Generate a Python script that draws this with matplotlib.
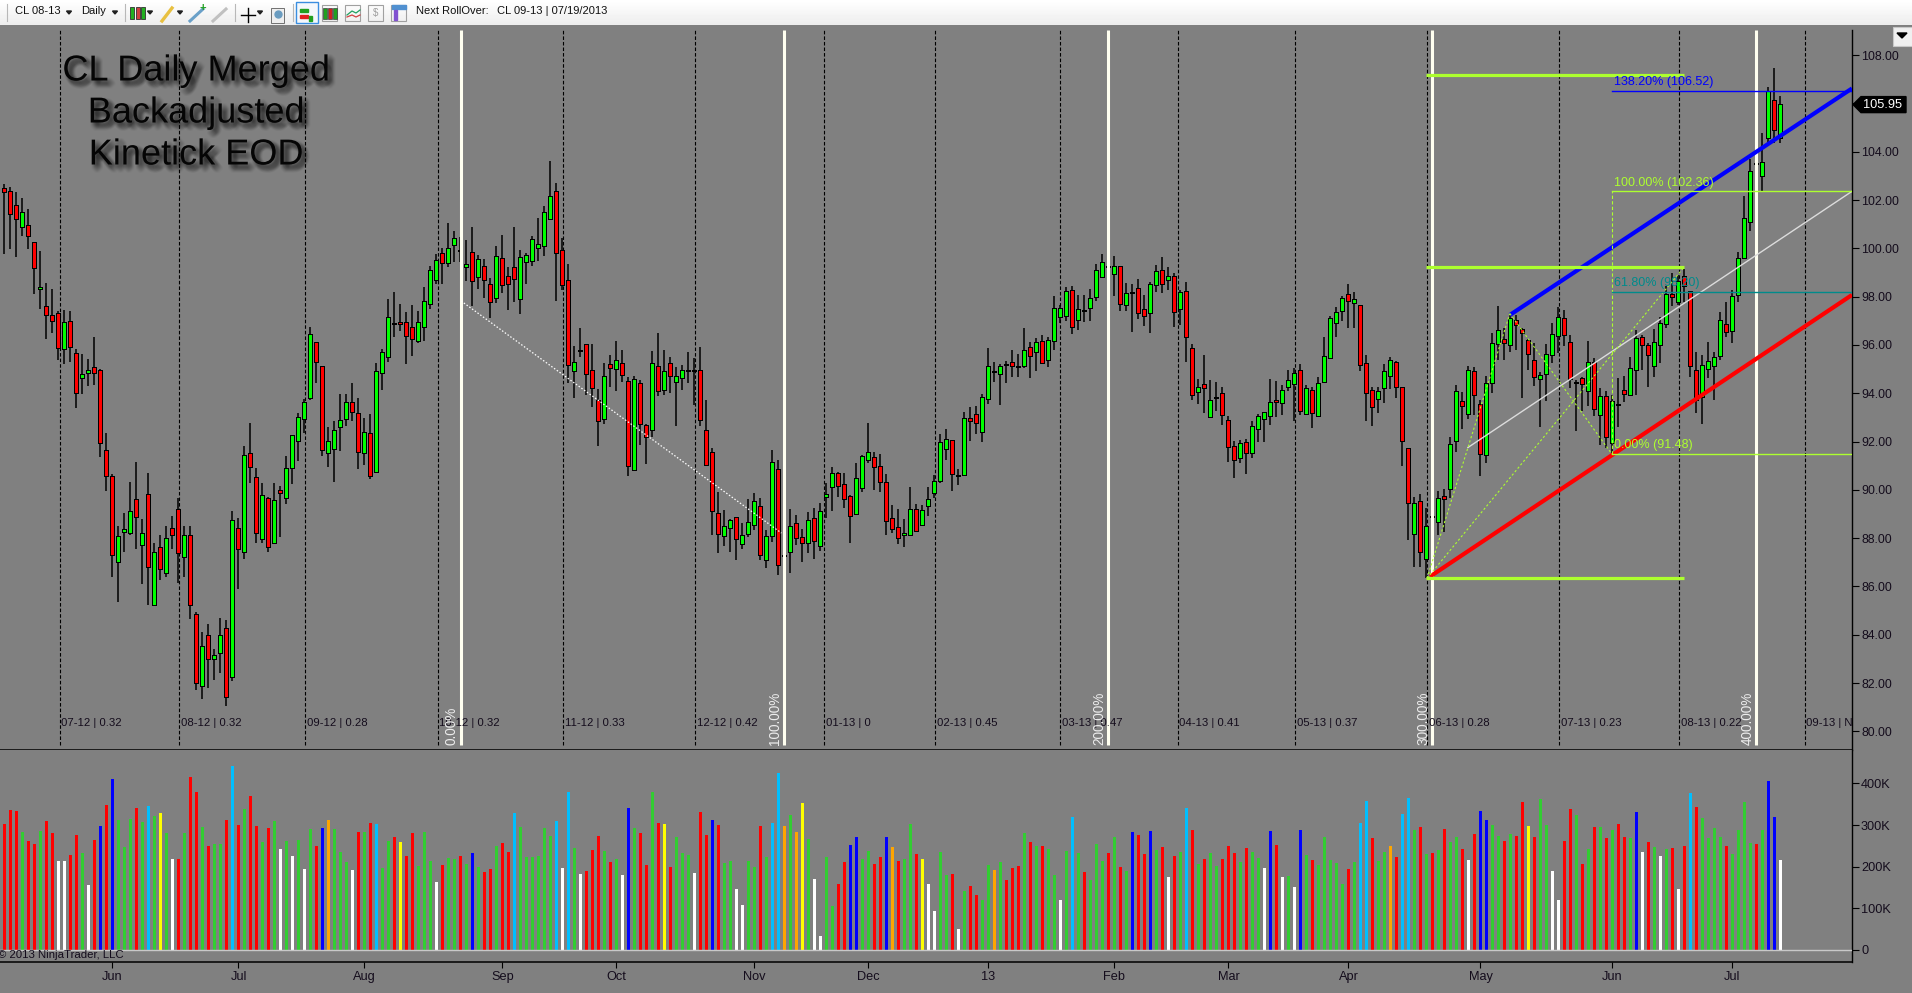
import numpy as np
import matplotlib
matplotlib.use('Agg')
import matplotlib.pyplot as plt
import matplotlib.patheffects as pe
from matplotlib.patches import Rectangle, Polygon
from matplotlib.collections import LineCollection

plt.rcParams['font.family'] = ['Liberation Sans', 'DejaVu Sans']

W, H = 1912, 993
GRAY = '#808080'
TEXT = '#140c1c'

highs = [
    102.65,102.53,102.35,102.10,101.61,100.24,99.87,98.55,98.31,97.40,
    97.44,97.40,95.82,95.61,95.40,96.32,94.99,92.37,90.67,88.49,
    89.04,90.34,91.14,88.79,90.71,87.81,88.13,88.52,88.92,89.66,
    88.52,88.49,84.96,84.13,84.43,83.42,84.68,84.60,89.12,88.82,
    91.81,92.77,90.89,90.27,89.71,90.27,90.15,91.38,92.25,93.18,
    93.77,96.73,96.10,95.11,92.59,92.84,93.95,93.95,94.44,93.80,
    92.96,93.14,95.24,95.82,97.89,98.21,97.69,97.35,97.65,97.40,
    98.39,99.28,99.75,100.02,101.05,100.70,100.46,100.34,100.87,99.72,
    99.54,98.76,100.10,100.55,99.21,100.87,99.93,99.79,100.51,101.24,
    101.75,103.61,102.69,100.41,99.34,95.96,96.69,96.02,96.04,94.18,
    95.24,95.58,96.16,95.79,94.66,94.71,94.55,92.73,95.75,96.49,
    95.79,95.49,95.07,95.17,95.71,95.46,95.90,93.72,91.72,89.90,
    89.17,88.81,88.89,88.64,89.61,89.86,89.65,88.34,91.65,91.24,
    87.51,89.19,88.96,88.37,89.07,89.23,89.44,90.30,90.93,90.73,
    90.68,89.79,91.10,91.43,92.75,91.58,91.48,90.64,89.37,89.19,
    88.79,90.10,89.40,89.37,90.13,90.61,92.31,92.51,92.06,90.85,
    93.24,93.42,93.47,93.96,95.86,95.28,95.20,95.34,95.79,95.61,
    96.69,96.12,96.27,96.40,96.32,98.03,97.66,98.39,98.44,98.07,
    98.07,98.30,99.35,99.77,99.45,99.68,99.24,98.55,98.51,98.72,
    98.07,98.62,99.31,99.63,99.21,98.97,98.28,98.59,96.03,94.59,
    95.57,94.55,94.45,94.27,93.06,92.02,92.07,92.09,92.85,93.14,
    93.24,94.58,94.52,94.33,94.96,95.03,95.20,94.34,94.27,94.66,
    96.34,97.20,97.56,98.04,98.51,98.18,97.67,95.57,94.27,94.27,
    95.20,95.52,95.35,94.23,91.72,89.69,89.82,89.24,89.10,89.95,
    90.02,92.18,94.34,94.07,95.13,95.07,93.72,94.71,96.51,97.61,
    96.69,97.24,97.24,96.69,96.23,96.09,94.89,96.04,96.92,97.58,
    97.45,96.41,94.55,94.69,96.16,95.45,94.20,94.11,93.93,94.62,
    94.71,95.51,96.62,96.41,96.07,96.65,97.14,98.44,98.96,98.89,
    99.13,98.21,95.72,95.58,96.13,95.69,97.38,97.79,98.27,99.86,
    102.17,103.68,104.00,104.76,106.66,107.45,106.32]

lows = [
    99.78,99.96,99.63,100.52,99.99,98.09,97.47,96.26,96.51,95.36,
    95.22,95.30,93.40,93.95,94.31,94.34,91.36,89.96,86.41,85.34,
    87.44,88.13,87.56,86.11,85.25,85.20,86.28,86.41,87.53,86.16,
    86.41,84.66,81.72,81.35,81.81,82.13,82.43,81.05,82.09,85.91,
    87.12,90.30,87.81,87.81,87.44,87.78,88.04,89.40,90.22,91.20,
    92.37,93.70,94.44,91.41,90.93,90.34,91.59,92.65,92.86,90.85,
    91.04,90.43,90.74,94.14,95.30,96.33,96.58,95.22,95.55,96.08,
    96.17,97.47,98.51,98.54,99.22,99.42,99.42,98.63,97.62,98.33,
    97.96,97.13,97.72,98.16,97.45,97.79,97.28,98.52,99.27,99.47,
    99.68,101.20,97.83,98.27,94.44,93.82,95.49,93.93,93.44,91.83,
    92.73,94.27,94.11,94.48,90.59,90.79,91.86,91.08,92.17,93.89,
    93.93,94.02,92.66,94.13,94.44,93.51,92.64,90.99,88.13,87.40,
    87.68,87.44,87.10,87.55,88.06,88.34,87.10,86.78,87.85,86.49,
    86.96,86.57,87.72,87.03,87.40,87.12,87.47,88.82,89.14,89.72,
    89.26,87.81,88.99,89.92,91.12,89.99,89.92,88.13,88.23,87.76,
    87.65,88.09,88.27,88.52,88.92,89.68,90.27,91.24,89.97,90.21,
    90.60,92.04,92.31,92.00,93.56,94.47,93.51,94.41,94.69,94.69,
    95.05,94.63,94.92,95.21,95.10,95.79,96.92,97.01,96.45,96.62,
    96.95,97.01,97.83,98.80,98.99,98.04,97.41,97.41,96.55,97.06,
    96.79,96.51,98.19,98.17,98.28,96.76,96.83,95.31,93.72,93.56,
    93.20,93.00,93.28,92.69,91.17,90.47,91.13,90.66,91.32,91.96,
    92.00,92.69,93.03,93.10,94.09,92.87,93.10,93.13,92.58,93.06,
    94.45,95.45,96.34,96.99,96.68,96.68,94.94,92.87,92.66,93.20,
    93.61,94.16,93.82,91.00,87.93,86.82,86.82,86.34,88.64,88.13,
    88.27,89.68,91.58,92.51,92.92,93.10,90.59,91.12,94.02,95.38,
    95.38,95.72,95.79,93.82,94.96,94.30,92.62,93.69,95.27,95.68,
    95.96,94.23,92.45,93.28,93.47,93.07,91.86,91.72,91.51,92.62,
    93.65,93.93,93.93,94.96,94.27,94.69,95.27,96.69,97.63,97.65,
    97.79,94.66,93.17,92.71,94.62,93.72,95.38,96.34,96.09,97.79,
    99.54,100.73,103.10,102.39,104.25,104.35,104.37]

opens = [
    102.44,102.35,101.76,100.87,100.93,100.21,98.30,97.55,97.18,97.26,
    95.82,96.95,95.61,94.62,94.85,95.06,94.94,91.61,90.51,87.03,
    88.24,88.20,89.59,87.71,89.80,85.24,87.61,86.54,88.39,89.17,
    87.21,88.09,84.83,81.87,83.95,82.99,83.23,84.25,82.24,88.39,
    87.44,91.50,90.49,87.95,89.60,87.78,89.96,89.65,90.89,92.04,
    92.92,93.82,96.07,95.09,91.54,91.67,92.59,92.92,93.61,93.15,
    91.51,92.33,90.74,94.82,95.52,96.87,96.91,96.91,96.70,96.17,
    96.73,97.68,98.70,99.78,99.39,100.13,99.89,99.22,99.82,98.83,
    99.24,98.47,97.93,99.54,98.80,99.17,97.89,99.42,99.47,100.00,
    100.08,101.20,102.32,99.87,98.66,94.91,95.75,96.01,94.93,93.66,
    92.92,95.18,94.99,95.22,94.48,90.84,94.37,92.66,92.46,95.10,
    94.13,95.22,94.47,94.63,94.93,94.93,94.91,92.45,91.54,89.01,
    88.08,88.41,88.85,87.74,88.16,88.53,89.30,87.10,88.08,90.84,
    87.24,87.43,88.60,88.00,87.79,88.78,87.69,89.69,90.10,90.64,
    90.21,89.72,88.99,90.06,91.25,91.33,90.93,90.27,88.81,88.41,
    88.12,88.12,89.18,88.53,89.32,89.86,90.35,91.68,92.01,90.58,
    90.60,92.95,93.11,92.38,93.75,94.88,94.81,95.16,95.27,95.10,
    95.14,95.86,95.70,96.14,95.36,96.15,97.14,97.21,98.25,97.02,
    97.42,97.54,97.97,98.80,99.22,98.92,99.21,97.64,98.13,98.33,
    97.43,97.31,98.47,99.08,98.68,98.83,97.48,98.18,95.82,94.03,
    94.33,93.00,93.80,93.98,92.83,91.79,91.31,91.93,91.51,92.51,
    92.92,93.06,93.69,93.58,94.25,94.38,94.94,93.13,94.11,93.06,
    94.45,95.47,96.90,97.39,98.08,97.72,97.63,95.21,94.08,93.75,
    94.20,94.72,95.27,94.21,91.68,88.16,89.51,87.13,88.87,88.67,
    89.72,90.02,92.01,93.65,93.13,94.87,93.50,91.43,94.41,96.02,
    96.22,95.98,96.99,96.62,96.18,95.35,94.58,94.80,95.58,96.37,
    97.09,96.09,94.43,94.58,94.09,95.24,93.09,93.83,91.93,93.52,
    94.08,93.93,94.96,96.29,95.97,95.13,96.00,96.85,98.07,97.79,
    98.80,98.18,94.93,93.86,95.00,95.14,95.54,96.82,96.58,98.05,
    99.58,101.08,103.50,103.00,104.55,106.11,104.55]

closes = [
    102.35,101.41,101.20,101.48,100.53,99.17,98.37,97.22,96.97,95.89,
    96.91,95.92,93.99,94.74,94.93,94.85,91.93,90.59,87.31,88.05,
    88.35,89.09,88.89,88.18,86.79,87.40,86.72,87.98,88.11,87.37,
    88.09,85.23,81.99,83.50,82.98,83.13,83.95,81.44,88.72,87.55,
    91.41,90.96,88.23,89.75,87.65,89.54,89.86,90.88,92.21,92.99,
    93.60,96.42,95.31,91.63,91.98,92.44,92.86,93.60,93.23,91.56,
    92.35,90.59,94.88,95.68,97.13,96.87,96.85,96.35,96.23,96.92,
    97.78,99.07,99.48,99.41,99.99,100.40,99.89,99.32,98.63,99.50,
    98.67,97.79,99.63,98.47,98.51,98.72,99.59,99.70,100.33,100.15,
    101.48,102.14,99.79,98.47,95.16,95.27,95.75,94.80,94.20,92.84,
    94.69,95.03,95.32,94.74,90.97,94.53,92.71,92.19,95.22,94.08,
    94.89,94.70,94.69,94.93,94.93,94.93,92.88,91.04,89.11,88.16,
    88.48,88.70,87.95,88.10,88.64,89.51,87.29,88.06,91.13,86.88,
    87.24,88.48,88.00,87.79,88.72,87.88,89.10,89.80,90.67,90.15,
    89.61,88.90,90.46,91.35,91.51,90.93,90.31,88.70,88.37,88.00,
    88.19,89.18,88.31,89.14,89.59,90.34,91.95,92.08,90.64,90.58,
    92.95,92.84,92.75,93.79,95.07,94.88,95.07,95.16,95.12,95.10,
    95.76,95.53,96.09,95.24,96.18,97.48,97.50,98.18,96.73,97.43,
    97.42,97.92,99.08,99.41,99.22,99.24,97.68,98.12,98.13,97.31,
    97.21,98.50,99.01,98.51,98.80,97.35,98.17,96.32,93.92,94.20,
    94.20,93.69,93.80,93.11,91.76,91.22,91.91,91.51,92.62,93.03,
    93.17,93.61,93.63,94.11,94.52,94.81,93.25,94.19,93.17,94.40,
    95.52,97.06,97.31,97.92,97.81,97.88,95.16,94.00,93.42,94.07,
    94.89,95.35,94.25,92.01,89.44,89.42,87.43,88.44,88.87,89.64,
    89.62,91.87,94.07,93.47,94.93,93.91,91.48,94.40,96.05,96.59,
    96.07,97.06,96.82,96.48,95.62,94.66,94.73,95.58,96.42,97.13,
    96.40,94.58,94.43,94.38,95.24,93.35,93.83,92.17,93.65,93.52,
    93.95,94.99,96.23,95.98,95.58,96.09,96.87,98.05,97.98,98.62,
    98.45,95.13,93.72,95.14,95.31,95.47,97.00,96.55,97.97,99.57,
    101.23,103.17,103.50,103.52,106.49,104.90,105.95]

# volume in thousands
volumes = [
    302,336,334,283,262,254,286,310,281,214,
    214,228,276,233,156,264,298,348,410,312,
    247,314,341,307,346,322,329,281,218,218,
    281,415,379,295,250,254,254,312,442,300,
    338,370,298,259,293,310,242,262,226,264,
    194,290,250,293,312,290,235,211,192,283,
    283,305,302,197,262,271,259,226,281,202,
    283,214,163,204,221,218,226,206,233,199,
    187,194,250,257,235,329,295,223,223,226,
    293,274,310,197,379,245,182,190,240,274,
    238,211,218,180,341,293,281,204,379,305,
    302,199,271,233,228,185,331,276,312,300,
    209,214,146,108,214,199,298,223,305,425,
    298,324,283,353,266,170,34,223,106,158,
    211,252,271,218,238,206,223,271,247,214,
    218,302,230,218,158,94,235,180,182,50,
    142,154,132,120,204,192,211,168,197,202,
    281,259,250,250,242,180,120,238,319,233,
    187,168,254,214,233,271,199,190,283,276,
    230,286,240,247,175,226,235,341,288,206,
    218,233,202,218,250,233,211,245,235,221,
    197,286,252,175,178,151,288,228,216,204,
    271,216,209,158,194,211,305,358,269,214,
    235,250,223,326,365,288,295,230,233,240,
    290,259,271,242,216,278,334,312,300,274,
    262,278,274,355,298,271,362,300,190,120,
    262,338,324,206,242,295,295,269,288,302,
    271,269,331,235,259,247,226,242,245,146,
    250,377,343,317,269,293,271,250,230,288,
    355,257,254,288,406,319,216]

volume_codes = (
    'RRRGRRGRRW' 'WRRGWRBRBG' 'GGRGCGYGWR' 'GRRGRGGRCR' 'GRRGRGWGWG'
    'WGRBOGGGWR' 'GRCGGRYRRG' 'GGWRGGRGBG' 'RRGRRCGGGG' 'GGCWCGWRRR'
    'GRGWBGRRGR' 'YRGGGWRRBR' 'GGWWGGRGCC' 'OGOYGWWGGR' 'RBBGGRRBOR'
    'GGRYWWGGRW' 'GRRGGOGRRR' 'GRGRGGWGCG' 'RGGGRGRGBR' 'RBGRWRGCRG'
    'RGGRRRGRGG' 'WBRWGWBGRG' 'GGGGRGCCRG' 'GORCCGRGRG' 'RGGRWRBBGG'
    'RGRRYRGGWW' 'RRGRGRGRGR' 'RGBWRGWGRW' 'RCRGGGGRGG' 'GGRGBBW')
volume_colors = {'R': '#ff0000', 'G': '#32cd32', 'W': '#ffffff', 'B': '#0000ff',
                 'C': '#00bfff', 'Y': '#ffff00', 'O': '#ffa500'}

month_pos = [18, 39, 60, 83, 102, 125, 144, 164, 185, 204, 224, 246, 268, 288]
month_labels = ['Jun', 'Jul', 'Aug', 'Sep', 'Oct', 'Nov', 'Dec', '13', 'Feb', 'Mar',
                'Apr', 'May', 'Jun', 'Jul']

rollover_pos = [9.2, 29.15, 50.15, 72.2, 93.15, 115.15, 136.65, 155.15, 176, 195.55,
                215.15, 237.15, 259.15, 279.15, 300.05]
rollover_labels = ['07-12 | 0.32', '08-12 | 0.32', '09-12 | 0.28', '10-12 | 0.32',
                   '11-12 | 0.33', '12-12 | 0.42', '01-13 | 0', '02-13 | 0.45',
                   '03-13 | 0.47', '04-13 | 0.41', '05-13 | 0.37', '06-13 | 0.28',
                   '07-13 | 0.23', '08-13 | 0.22', '09-13 | N']

cycle_pos = [76.05, 130, 184, 238, 292]
cycle_labels = ['0.00%', '100.00%', '200.00%', '300.00%', '400.00%']

fib_levels = [106.52, 102.36, 98.20, 91.48]
fib_labels = ['138.20% (106.52)', '100.00% (102.36)', '61.80% (98.20)', '0.00% (91.48)']
fib_colors = ['#0000ff', '#adff2f', '#008b8b', '#adff2f']

price_ticks = list(range(80, 110, 2))
volume_ticks = [0, 100, 200, 300, 400]
volume_tick_labels = ['0', '100K', '200K', '300K', '400K']

last_price = 105.95


def add_axes(x0, y0, x1, y1):
    # pixel box, y measured from the top
    return fig.add_axes([x0 / W, 1 - y1 / H, (x1 - x0) / W, (y1 - y0) / H])


fig = plt.figure(figsize=(W / 100, H / 100), dpi=100, facecolor=GRAY)

ax = add_axes(0, 30, 1852, 750)
vol = add_axes(0, 750, 1852, 962)
xlim = (-0.75, 307.92)
for a in (ax, vol):
    a.set_facecolor(GRAY)
    a.set_xlim(xlim)
    for s in ('left', 'top'):
        a.spines[s].set_visible(False)
    a.spines['right'].set_linewidth(1.0)
    a.spines['bottom'].set_linewidth(1.1)
    a.yaxis.tick_right()
ax.set_ylim(79.226, 109.04)
vol.set_ylim(-28.8, 480)

# rollover separators
ax.vlines(rollover_pos, 79.45, 109.04, color='black', lw=0.8, linestyles=(0, (3.2, 1.8)), zorder=1)
for x, t in zip(rollover_pos, rollover_labels):
    ax.text(x + 0.25, 80.35, t, fontsize=8.2, color=TEXT, ha='left', va='center', zorder=5,
            clip_on=True)

# candles: black box, coloured inside, 1 px border
idx = np.arange(len(closes))
wicks = [[(i, lows[i]), (i, highs[i])] for i in idx]
ax.add_collection(LineCollection(wicks, colors='black', linewidths=1.1, zorder=2))
px = 1 / 24.15
for i in idx:
    o, c = opens[i], closes[i]
    lo, hi = min(o, c), max(o, c)
    if o == c:
        ax.add_patch(Rectangle((i - 0.36, o - px), 0.72, 2 * px, color='black', lw=0, zorder=3))
        continue
    color = '#00ff00' if c > o else '#ff0000'
    ax.add_patch(Rectangle((i - 0.42, lo - px), 0.84, hi - lo + 2 * px, color='black', lw=0, zorder=3))
    ax.add_patch(Rectangle((i - 0.26, lo), 0.52, hi - lo, color=color, lw=0, zorder=3.1))

# cycle lines
ax.vlines(cycle_pos, 79.45, 109.04, color='#fffff0', lw=2.2, zorder=4)
for x, t in zip(cycle_pos, cycle_labels):
    ax.text(x - 1.5, 79.42, t, rotation=90, fontsize=9.8, color='#ececec', ha='center',
            va='bottom', zorder=5)

# trend lines and fib drawing
ax.plot([250.9, 307.92], [97.24, 106.62], color='#0000ff', lw=3.0, zorder=6, solid_capstyle='butt')
ax.plot([237.6, 307.92], [86.41, 98.07], color='#ff0000', lw=3.0, zorder=6, solid_capstyle='butt')
ax.plot([243.9, 307.92], [91.75, 102.36], color='#dcdcdc', lw=1.0, zorder=6)
for lvl in (107.17, 99.21, 86.34):
    ax.plot([236.9, 279.9], [lvl, lvl], color='#adff2f', lw=2.3, zorder=6, solid_capstyle='butt')
for xs, ys in (([237.1, 250.9], [86.34, 97.3]), ([250.9, 267.9], [97.3, 91.48]),
               ([237.1, 279.9], [86.34, 99.21])):
    ax.plot(xs, ys, color='#adff2f', lw=0.8, ls=(0, (2, 2)), zorder=6)
ax.plot([76.1, 129.5], [97.82, 88.21], color='white', lw=0.9, ls=(0, (1.2, 1.5)), zorder=6)

ax.plot([267.9, 267.9], [91.48, 102.36], color='#adff2f', lw=0.8, ls=(0, (3, 2)), zorder=6)
for lvl, t, c in zip(fib_levels, fib_labels, fib_colors):
    ax.plot([267.9, 307.92], [lvl, lvl], color=c, lw=1.0, zorder=6)
    ax.annotate(t, (268.3, lvl), xytext=(0, 2.0), textcoords='offset points', fontsize=9,
                color=c, ha='left', va='bottom', zorder=7)

ax.set_xticks([])
ax.set_yticks(price_ticks)
ax.set_yticklabels(['%.2f' % p for p in price_ticks])
ax.tick_params(axis='y', length=5, width=0.8, color='black', pad=1.5, labelsize=8.9, labelcolor=TEXT)

# volume
vol.bar(idx, volumes, width=0.5, color=[volume_colors[k] for k in volume_codes], zorder=2)
vol.axhline(0, color='#c8c8c8', lw=1.0, zorder=3)
vol.set_yticks(volume_ticks)
vol.set_yticklabels(volume_tick_labels)
vol.tick_params(axis='y', length=5, width=0.8, color='black', pad=1.5, labelsize=9.2, labelcolor=TEXT)
vol.set_xticks(month_pos)
vol.set_xticklabels(month_labels)
vol.tick_params(axis='x', length=4.3, width=0.8, color='black', pad=2.5, labelsize=9.2, labelcolor=TEXT)
vol.text(-0.001, 0.033, '\u00a9 2013 NinjaTrader, LLC', transform=vol.transAxes, fontsize=8.2,
         color=TEXT, ha='left', va='center')

# chrome on top, in pixel coordinates
top = fig.add_axes([0, 0, 1, 1], zorder=10)
top.axis('off')
top.patch.set_alpha(0)

top.imshow(np.linspace(1.0, 0.93, 25).reshape(-1, 1), extent=(0, W, 25, 0), cmap='gray',
           vmin=0, vmax=1, aspect='auto', zorder=1)
top.set_xlim(0, W)
top.set_ylim(H, 0)

for x in (7, 125, 235, 293):
    top.plot([x, x], [4, 21], color='#b8b8b8', lw=0.8, zorder=2)
for x in (69, 115, 150, 180, 260):
    top.add_patch(Polygon([(x - 2.5, 11), (x + 2.5, 11), (x, 14)], color='#202020', zorder=2))
for x, t in ((15, 'CL 08-13'), (81, 'Daily'), (416, 'Next RollOver:'), (497, 'CL 09-13 | 07/19/2013')):
    top.text(x, 11.5, t, fontsize=8, color='#101010', ha='left', va='center', zorder=2)

# toolbar icons
for x, c in ((132, '#22b020'), (138, '#d04040'), (143, '#22b020')):
    top.add_patch(Rectangle((x - 2, 7), 4, 12, facecolor=c, edgecolor='#303030', lw=0.6, zorder=2))
top.plot([162, 172], [21, 8], color='#e8c040', lw=2.4, zorder=2)
top.plot([190, 203], [21, 9], color='#6aa0c8', lw=2.2, zorder=2)
top.text(203, 8, '+', fontsize=8, color='#20a020', weight='bold', ha='center', va='center', zorder=2)
top.plot([213, 226], [21, 9], color='#c0c0c0', lw=2.2, zorder=2)
top.plot([241, 255], [15, 15], color='black', lw=1.0, zorder=2)
top.plot([248, 248], [8, 22], color='black', lw=1.0, zorder=2)
top.add_patch(Rectangle((271, 8), 13, 15, facecolor='#eeeeee', edgecolor='#707070', lw=0.7, zorder=2))
top.plot([278], [14], 'o', ms=5, color='#6a9cc0', zorder=3)
top.add_patch(Rectangle((296, 1.5), 22, 21, facecolor='#f4f8fc', edgecolor='#3a8ee0', lw=1.0, zorder=2))
top.add_patch(Rectangle((300, 9), 8, 3, color='#20a020', zorder=3))
top.add_patch(Rectangle((300, 15), 8, 3, color='#e02020', zorder=3))
top.add_patch(Rectangle((309, 16), 3, 5, color='#20a020', zorder=3))
for x, c in ((325, '#20a020'), (330, '#d02020'), (335, '#20a020')):
    top.add_patch(Rectangle((x - 1.5, 8), 3.5, 11, facecolor=c, edgecolor='#404040', lw=0.5, zorder=3))
for x in (330, 353, 376, 399):
    top.add_patch(Rectangle((x - 7.5, 5), 15, 16, fill=False, edgecolor='#a0a0a0', lw=0.8, zorder=2))
top.plot([347, 352, 356, 360], [15, 11, 13, 10], color='#20a060', lw=0.9, zorder=3)
top.plot([347, 352, 356, 360], [17, 15, 17, 15], color='#d04040', lw=0.9, zorder=3)
top.text(376, 13, '$', fontsize=7, color='#a0a0a0', ha='center', va='center', zorder=3)
top.add_patch(Rectangle((392, 5), 14, 4, color='#5090d0', zorder=3))
top.add_patch(Rectangle((394, 10), 3, 10, color='#8050d0', zorder=3))

# little dropdown button, top right
top.add_patch(Rectangle((1893, 27), 20, 19, facecolor='#f0f0f0', edgecolor='#c8c8c8', lw=0.8, zorder=2))
top.add_patch(Polygon([(1897, 33), (1907, 33), (1902, 38)], color='black', zorder=3))

# last price tag
y_last = 731.3 - (last_price - 80) * 24.15
top.add_patch(Polygon([(1853, y_last), (1861, y_last - 8), (1906, y_last - 8), (1906, y_last + 8),
                       (1861, y_last + 8)], color='black', zorder=3))
top.text(1883, y_last, '%.2f' % last_price, fontsize=9.2, color='white', ha='center', va='center',
         zorder=4)

# heading, soft shadow through path effects so it stays one text each
shadow = []
for dx in range(-4, 5):
    for dy in range(-4, 5):
        if dx * dx + dy * dy <= 17:
            shadow.append(pe.SimplePatchShadow(offset=((4 + dx) * 0.72, -(4 + dy) * 0.72),
                                               shadow_rgbFace='black', alpha=0.016))
shadow.append(pe.Normal())
for t, y in (('CL Daily Merged', 71), ('Backadjusted', 113), ('Kinetick EOD', 155)):
    top.text(196, y, t, fontsize=26, color='#050505', ha='center', va='center', zorder=3,
             path_effects=shadow)

fig.savefig('out.png', dpi=100, facecolor=fig.get_facecolor())
